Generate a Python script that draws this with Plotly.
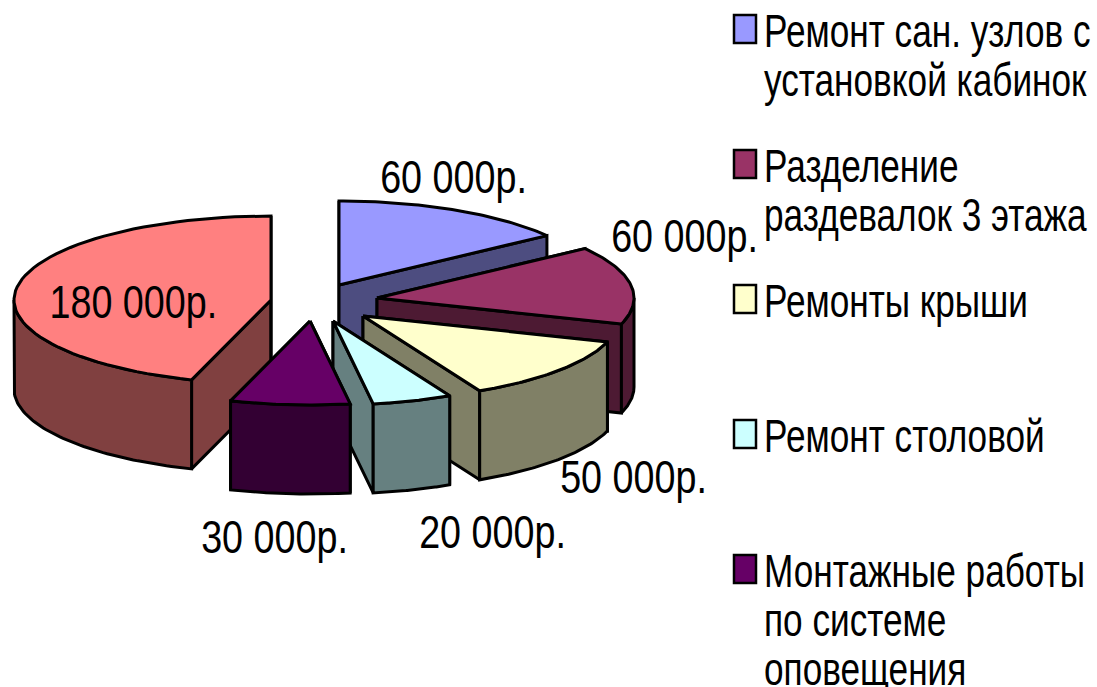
import math
import plotly.graph_objects as go

# ---- data ----
categories = ["Ремонт сан. узлов с установкой кабинок", "Разделение раздевалок 3 этажа",
              "Ремонты крыши", "Ремонт столовой", "Монтажные работы по системе оповещения",
              "Прочее"]
values = [60000, 60000, 50000, 20000, 30000, 180000]
value_labels = ["60 000р.", "60 000р.", "50 000р.", "20 000р.", "30 000р.", "180 000р."]
top_colors = ["#9999FF", "#993366", "#FFFFCC", "#CCFFFF", "#660066", "#FF8080"]
wall_colors = ["#4D4D80", "#4D1A33", "#808066", "#668080", "#330033", "#804040"]
legend_lines = [["Ремонт сан. узлов с", "установкой кабинок"], ["Разделение", "раздевалок 3 этажа"],
                ["Ремонты крыши"], ["Ремонт столовой"],
                ["Монтажные работы", "по системе", "оповещения"]]

# ---- layout geometry (pixels of the 1097x687 page) ----
W, H = 1097, 687
RX, RY, DEPTH = 257, 84, 89
apexes = [(339, 285), (377, 298), (363, 316), (333, 321), (310, 321), (271, 300)]
draw_order = [0, 1, 2, 5, 3, 4]
label_pos = [(453, 177), (684, 236), (633, 477), (492, 532), (274, 537), (133, 302)]
legend_y = [31, 166, 301, 436, 571]
FONT = "Liberation Sans, Arial, sans-serif"
FS = 46
NARROW_LABEL = 0.82
NARROW_LEGEND = 0.765

# ---- angles from the values ----
total = sum(values)
angles, acc = [], 0
for v in values:
    angles.append((acc / total * 360, (acc + v) / total * 360))
    acc += v


def pt(apex, deg, drop=0):
    t = math.radians(deg)
    return apex[0] + RX * math.sin(t), apex[1] - RY * math.cos(t) + drop


def arc(apex, a, b, drop=0, n=60):
    return [pt(apex, a + (b - a) * i / n, drop) for i in range(n + 1)]


fig = go.Figure()


def poly(points, color):
    xs = [p[0] for p in points] + [points[0][0]]
    ys = [p[1] for p in points] + [points[0][1]]
    fig.add_trace(go.Scatter(x=xs, y=ys, mode="lines", fill="toself", fillcolor=color,
                             line=dict(color="black", width=3, shape="linear"),
                             hoverinfo="skip", showlegend=False))


for i in draw_order:
    a, b = angles[i]
    ap = apexes[i]
    wall = wall_colors[i]
    for deg in (a, b):
        p = pt(ap, deg)
        poly([ap, p, (p[0], p[1] + DEPTH), (ap[0], ap[1] + DEPTH)], wall)
    lo, hi = max(a, 90), min(b, 270)
    if lo < hi:
        poly(arc(ap, lo, hi) + arc(ap, hi, lo, DEPTH), wall)
    poly([ap] + arc(ap, a, b), top_colors[i])

annotations = []
for (x, y), txt in zip(label_pos, value_labels):
    annotations.append(dict(x=x, y=y, text=txt, showarrow=False, xanchor="center", yanchor="middle",
                            font=dict(family=FONT, size=FS, color="black")))

shapes = []
for y0, lines, color in zip(legend_y, legend_lines, top_colors):
    shapes.append(dict(type="rect", x0=734, x1=756, y0=y0 - 16, y1=y0 + 12, xref="x", yref="y",
                       fillcolor=color, line=dict(color="black", width=2.5)))
    for k, line in enumerate(lines):
        annotations.append(dict(x=762, y=y0 + k * 49, text=line, showarrow=False, xanchor="left",
                                yanchor="middle", font=dict(family=FONT, size=FS, color="black")))

fig.update_layout(
    width=W, height=H, margin=dict(l=0, r=0, t=0, b=0),
    paper_bgcolor="white", plot_bgcolor="white", showlegend=False,
    xaxis=dict(range=[0, W], visible=False, fixedrange=True),
    yaxis=dict(range=[H, 0], visible=False, fixedrange=True),
    annotations=annotations, shapes=shapes,
)

# remove the page margin and condense the text horizontally (Arial-Narrow look);
# value labels condense about their centre, legend lines about their left edge
post = """
document.body.style.margin = '0';
document.querySelectorAll('.annotation-text').forEach(function (el) {
  var bb = el.getBBox();
  var isValue = /р\\.$/.test(el.textContent);
  var ox = isValue ? bb.x + bb.width / 2 : bb.x;
  var s = isValue ? %s : %s;
  el.setAttribute('transform', 'translate(' + ox + ',0) scale(' + s + ',1) translate(' + (-ox) + ',0)');
});
""" % (NARROW_LABEL, NARROW_LEGEND)
fig.write_html("out.html", config={"displayModeBar": False}, post_script=post)
